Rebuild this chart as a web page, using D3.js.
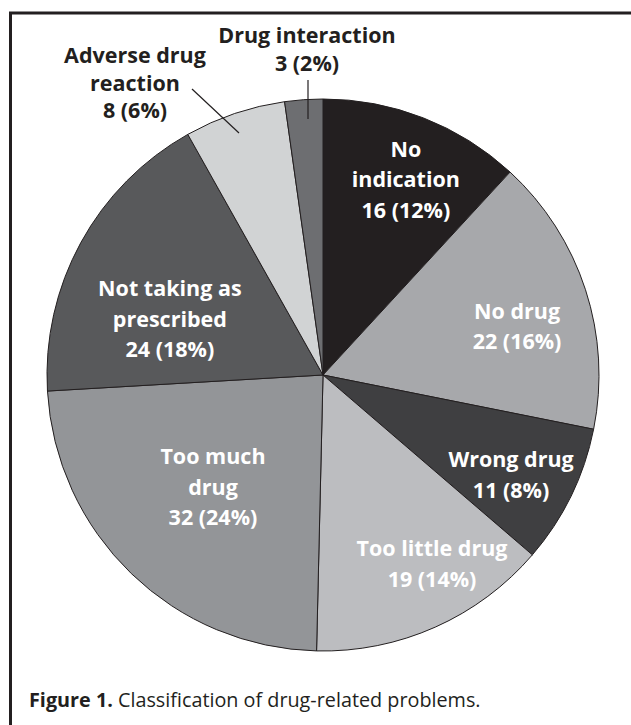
<!DOCTYPE html>
<html>
<head>
<meta charset="utf-8">
<script src="https://cdn.jsdelivr.net/npm/d3@7"></script>
<style>
  html, body { margin: 0; padding: 0; background: #fff; }
  svg { display: block; }
  text { font-family: "Open Sans", "Noto Sans", sans-serif; }
</style>
</head>
<body>
<svg id="chart" width="631" height="725"></svg>
<script>
// ---- data ----
const categories = ["No indication", "No drug", "Wrong drug", "Too little drug",
                    "Too much drug", "Not taking as prescribed", "Adverse drug reaction", "Drug interaction"];
const counts = [16, 22, 11, 19, 32, 24, 8, 3];
const percents = [12, 16, 8, 14, 24, 18, 6, 2];
const labelLines = [
  ["No", "indication"],
  ["No drug"],
  ["Wrong drug"],
  ["Too little drug"],
  ["Too much", "drug"],
  ["Not taking as", "prescribed"],
  ["Adverse drug", "reaction"],
  ["Drug interaction"]
];
const captionBold = "Figure 1.";
const captionText = " Classification of drug-related problems.";

// ---- styles / layout ----
const fills = ["#231f20", "#a7a8ab", "#3f3f41", "#bcbdc0", "#939598", "#58595b", "#d1d3d4", "#6d6e71"];
const textFill = ["#fff", "#fff", "#fff", "#fff", "#fff", "#fff", "#231f20", "#231f20"];
// label placement in polar terms: [angle (deg, clockwise from top), radius]
const labelPolar = [[23, 212], [76, 200], [118, 213], [150, 218], [224.5, 157], [290, 163], null, null];
const outsideLabel = [null, null, null, null, null, null, {x: 135, y: 63, line: [[192, 89], [239, 133]]},
                      {x: 307, y: 43, line: [[308, 80], [308, 119]]}];

const cx = 323, cy = 375, R = 276;
const lineH = 30.5, fontSize = 21.5;

const svg = d3.select("#chart");

// frame
svg.append("path")
  .attr("d", `M 640 13 L 10.5 13 L 10.5 740`)
  .attr("fill", "none").attr("stroke", "#231f20").attr("stroke-width", 3);

const g = svg.append("g").attr("transform", `translate(${cx},${cy})`);

const pie = d3.pie().value(d => d).sort(null);
const arcs = pie(counts);
const arc = d3.arc().innerRadius(0).outerRadius(R);

g.selectAll("path.slice").data(arcs).join("path")
  .attr("class", "slice")
  .attr("d", arc)
  .attr("fill", (d, i) => fills[i])
  .attr("stroke", "#231f20")
  .attr("stroke-width", 1);

// inside labels
arcs.forEach((d, i) => {
  const lp = labelPolar[i];
  if (!lp) return;
  const a = lp[0] * Math.PI / 180;
  const x = lp[1] * Math.sin(a), y = -lp[1] * Math.cos(a);
  const lines = labelLines[i].concat([`${counts[i]} (${percents[i]}%)`]);
  const t = g.append("text")
    .attr("text-anchor", "middle")
    .attr("font-size", fontSize).attr("font-weight", 700)
    .attr("fill", textFill[i]);
  const startY = y - (lines.length - 1) * lineH / 2 + fontSize * 0.35;
  lines.forEach((s, k) => {
    t.append("tspan").attr("x", x).attr("y", startY + k * lineH).text(s);
  });
});

// outside labels with leader lines
arcs.forEach((d, i) => {
  const o = outsideLabel[i];
  if (!o) return;
  const lines = labelLines[i].concat([`${counts[i]} (${percents[i]}%)`]);
  const t = svg.append("text")
    .attr("text-anchor", "middle")
    .attr("font-size", fontSize).attr("font-weight", 700)
    .attr("fill", textFill[i]);
  lines.forEach((s, k) => {
    t.append("tspan").attr("x", o.x).attr("y", o.y + k * 27.5).text(s);
  });
  svg.append("line")
    .attr("x1", o.line[0][0]).attr("y1", o.line[0][1])
    .attr("x2", o.line[1][0]).attr("y2", o.line[1][1])
    .attr("stroke", "#231f20").attr("stroke-width", 1.2);
});

// caption
const cap = svg.append("text").attr("x", 29).attr("y", 707)
  .attr("font-size", 19.8).attr("fill", "#231f20");
cap.append("tspan").attr("font-weight", 700).text(captionBold);
cap.append("tspan").attr("font-weight", 400).text(captionText);
</script>
</body>
</html>
